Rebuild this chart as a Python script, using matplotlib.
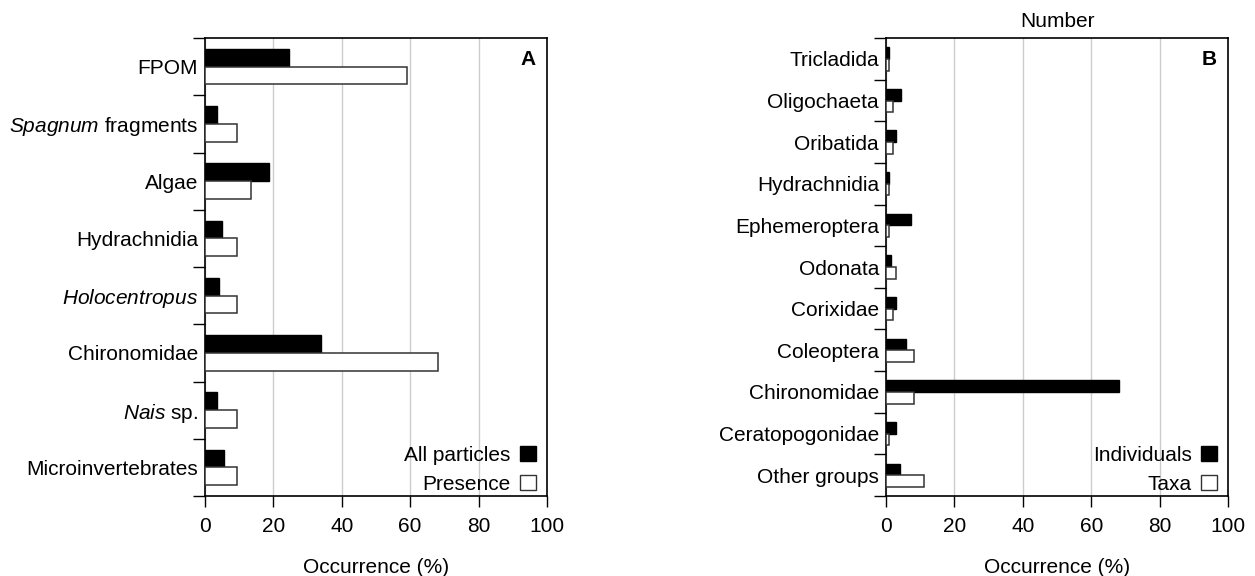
import matplotlib.pyplot as plt
from matplotlib.patches import Patch

plt.rcParams['font.family'] = ['Liberation Sans', 'DejaVu Sans']
plt.rcParams['font.size'] = 15
plt.rcParams['mathtext.fontset'] = 'custom'
plt.rcParams['mathtext.rm'] = 'Liberation Sans'
plt.rcParams['mathtext.it'] = 'Liberation Sans:italic'

# Panel A: diet items
items_a = ['FPOM', '$\\it{Spagnum}$ fragments', 'Algae', 'Hydrachnidia',
           '$\\it{Holocentropus}$', 'Chironomidae', '$\\it{Nais}$ sp.',
           'Microinvertebrates']
all_particles = [24.7, 3.6, 18.8, 5.0, 4.0, 33.9, 3.6, 5.6]
presence = [59.2, 9.3, 13.5, 9.3, 9.3, 68.1, 9.3, 9.3]

# Panel B: prey by number
items_b = ['Tricladida', 'Oligochaeta', 'Oribatida', 'Hydrachnidia',
           'Ephemeroptera', 'Odonata', 'Corixidae', 'Coleoptera',
           'Chironomidae', 'Ceratopogonidae', 'Other groups']
individuals = [0.8, 4.4, 3.0, 0.8, 7.3, 1.5, 3.0, 5.9, 68.2, 3.0, 4.0]
taxa = [1.0, 2.0, 2.0, 1.0, 1.0, 3.0, 2.0, 8.1, 8.1, 1.0, 11.0]

fig = plt.figure(figsize=(12.55, 5.76), dpi=100)
ax_a = fig.add_axes([0.1633, 0.1389, 0.2725, 0.795])
ax_b = fig.add_axes([0.706, 0.1389, 0.2725, 0.795])


def draw_panel(ax, labels, black_vals, white_vals, bar_h, names, letter):
    n = len(labels)
    pos = list(range(n))
    ax.barh([p - bar_h / 2 for p in pos], black_vals, height=bar_h,
            color='black', edgecolor='black', linewidth=1, zorder=3)
    ax.barh([p + bar_h / 2 for p in pos], white_vals, height=bar_h,
            color='white', edgecolor='#333333', linewidth=1.1, zorder=3)
    ax.set_ylim(n - 0.5, -0.5)
    ax.set_xlim(0, 100)
    ax.set_xticks([0, 20, 40, 60, 80, 100])
    ax.xaxis.grid(True, color='#cccccc', linewidth=1, zorder=0)
    ax.set_axisbelow(True)
    # boundary ticks without labels, labels on the centres
    ax.set_yticks([i - 0.5 for i in range(n + 1)])
    ax.set_yticklabels([])
    ax.set_yticks(pos, minor=True)
    ax.set_yticklabels(labels, minor=True)
    ax.tick_params(axis='y', which='major', length=8.5, width=1)
    ax.tick_params(axis='y', which='minor', length=0, pad=5)
    ax.tick_params(axis='x', length=8, width=1, pad=7)
    for s in ax.spines.values():
        s.set_linewidth(1.2)
    ax.set_xlabel('Occurrence (%)', labelpad=16)
    ax.text(0.968, 0.975, letter, transform=ax.transAxes, ha='right', va='top',
            fontsize=15, fontweight='bold')
    handles = [Patch(facecolor='black', edgecolor='black'),
               Patch(facecolor='white', edgecolor='#333333')]
    ax.legend(handles, names, loc='lower right', bbox_to_anchor=(0.982, -0.007),
              frameon=False, markerfirst=False, handlelength=0.75,
              handleheight=0.75, handletextpad=0.45, labelspacing=0.5,
              borderaxespad=0.1, borderpad=0.15, fontsize=15)


draw_panel(ax_a, items_a, all_particles, presence, 0.31,
           ['All particles', 'Presence'], 'A')
draw_panel(ax_b, items_b, individuals, taxa, 0.28,
           ['Individuals', 'Taxa'], 'B')
ax_b.set_title('Number', fontsize=15, pad=8)

fig.savefig('out.png', dpi=100)
